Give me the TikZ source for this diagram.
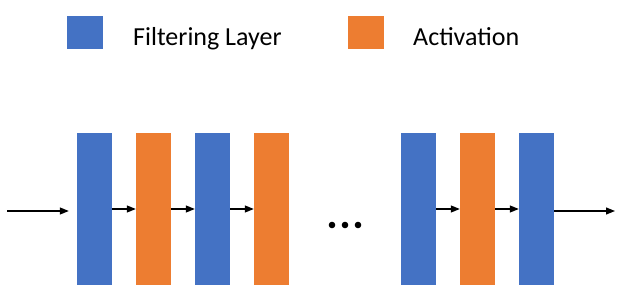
\documentclass[tikz,border=0pt]{standalone}
\usepackage{fontspec}
\setmainfont{Carlito}
\usetikzlibrary{arrows.meta,positioning}

\definecolor{filterblue}{HTML}{4472C4}
\definecolor{actorange}{HTML}{ED7D31}

\tikzset{
    layer/.style={rectangle, draw=none, inner sep=0pt, minimum width=35pt, minimum height=152pt},
    filter/.style={layer, fill=filterblue},
    act/.style={layer, fill=actorange},
    key/.style={rectangle, draw=none, inner sep=0pt, minimum width=36pt, minimum height=33pt},
    keytext/.style={anchor=base west, inner sep=0pt, font=\fontsize{26}{31}\selectfont},
    flow/.style={->, line width=1.2pt}
}

\begin{document}
\begin{tikzpicture}[x=1pt,y=-1pt,node distance=59pt,on grid,>={Triangle[length=9pt,width=7pt]}]
    \useasboundingbox (0,0) rectangle (630,307);

    % legend
    \node[key, fill=filterblue] (key_f) at (84.5,32.7) {};
    \node[keytext] (txt_f) at (133,46) {Filtering Layer};
    \node[key, fill=actorange] (key_a) at (365.5,32.7) {};
    \node[keytext] (txt_a) at (413,46) {Activation};

    % layers
    \node[filter] (f_1) at (94.5,209) {};
    \node[act]    (a_1) [right of=f_1] {};
    \node[filter] (f_2) [right of=a_1] {};
    \node[act]    (a_2) [right of=f_2] {};
    \node[filter] (f_3) at (418.5,209) {};
    \node[act]    (a_3) [right of=f_3] {};
    \node[filter] (f_4) [right of=a_3] {};

    % dots between the two groups
    \foreach \x in {332,345,358}
        \fill (\x,225) circle (3.3pt);

    \coordinate (in)  at (7,211);
    \coordinate (out) at (615,211);

    \draw[flow] (in) -- ([xshift=-8pt]f_1.west |- in);
    \draw[flow] (f_1) -- (a_1);
    \draw[flow] (a_1) -- (f_2);
    \draw[flow] (f_2) -- (a_2);
    \draw[flow] (f_3) -- (a_3);
    \draw[flow] (a_3) -- (f_4);
    \draw[flow] (f_4.east |- out) -- (out);
\end{tikzpicture}
\end{document}
